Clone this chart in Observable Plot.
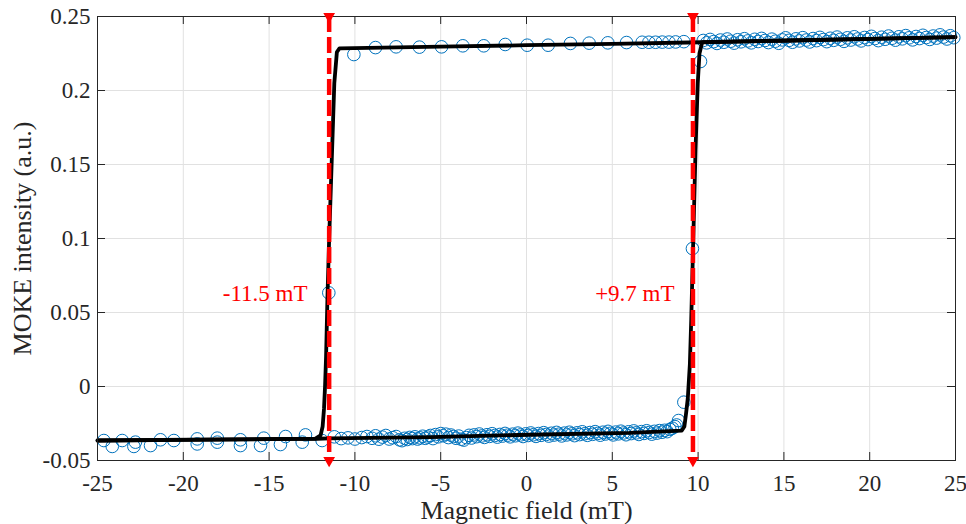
<!DOCTYPE html>
<html>
<head>
<meta charset="utf-8">
<script src="https://cdn.jsdelivr.net/npm/d3@7"></script>
<script src="https://cdn.jsdelivr.net/npm/@observablehq/plot@0.6"></script>
<style>
  html, body { margin: 0; padding: 0; background: #fff; }
  #chart svg { display: block; }
  #chart svg text { font-family: 'Liberation Serif', 'Times New Roman', Times, serif; }
</style>
</head>
<body>
<div id="chart"></div>
<script>
// ---------- axis ticks ----------
const xTicks = [-25, -20, -15, -10, -5, 0, 5, 10, 15, 20, 25];
const yTicks = [-0.05, 0, 0.05, 0.1, 0.15, 0.2, 0.25];
const xDomain = [-25, 25];
const yDomain = [-0.05, 0.25];

// ---------- measured MOKE points [field mT, intensity a.u.] ----------
// lower branch, sparse part (negative saturation)
const lowerLeft = [
  [-24.63, -0.0365], [-24.14, -0.0405], [-23.56, -0.0365], [-22.79, -0.0376], [-22.88, -0.0405],
  [-21.91, -0.0399], [-21.33, -0.0360], [-20.55, -0.0365], [-19.19, -0.0354], [-19.19, -0.0388],
  [-18.02, -0.0349], [-18.02, -0.0376], [-16.67, -0.0360], [-16.67, -0.0399], [-15.31, -0.0349],
  [-15.50, -0.0399], [-14.04, -0.0338], [-14.34, -0.0392], [-12.88, -0.0327], [-13.07, -0.0376],
  [-11.91, -0.0365]
];
// lower branch, dense part (up sweep before switching)
const lowerDense = [
  [-11.2, -0.0340], [-10.8, -0.0352], [-10.4, -0.0347], [-10.0, -0.0355], [-9.6, -0.0345],
  [-9.3, -0.0338], [-9.0, -0.0350], [-8.8, -0.0333], [-8.6, -0.0356], [-8.4, -0.0342],
  [-8.2, -0.0331], [-8.0, -0.0355], [-7.8, -0.0346], [-7.6, -0.0338], [-7.4, -0.0360],
  [-7.25, -0.0366], [-7.1, -0.0350], [-6.95, -0.0358], [-6.8, -0.0344], [-6.65, -0.0352],
  [-6.5, -0.0340], [-6.35, -0.0355], [-6.2, -0.0347], [-6.05, -0.0336], [-5.9, -0.0350],
  [-5.75, -0.0342], [-5.6, -0.0331], [-5.45, -0.0352], [-5.3, -0.0325], [-5.15, -0.0340],
  [-5.0, -0.0318], [-4.85, -0.0333], [-4.7, -0.0322], [-4.55, -0.0345], [-4.4, -0.0328],
  [-4.25, -0.0338], [-4.1, -0.0350], [-3.95, -0.0335], [-3.8, -0.0356], [-3.65, -0.0362],
  [-3.5, -0.0345], [-3.35, -0.0330], [-3.2, -0.0348], [-3.05, -0.0327], [-2.9, -0.0339],
  [-2.75, -0.0321], [-2.6, -0.0334], [-2.45, -0.0344], [-2.3, -0.0326], [-2.15, -0.0337],
  [-2.0, -0.0319], [-1.85, -0.0331], [-1.7, -0.0342], [-1.55, -0.0324], [-1.4, -0.0335],
  [-1.25, -0.0317], [-1.1, -0.0329], [-0.95, -0.0340], [-0.8, -0.0322], [-0.65, -0.0333],
  [-0.5, -0.0315], [-0.35, -0.0327], [-0.2, -0.0338], [-0.05, -0.0320], [0.1, -0.0331],
  [0.25, -0.0314], [0.4, -0.0326], [0.55, -0.0337], [0.7, -0.0318], [0.85, -0.0330],
  [1.0, -0.0312], [1.15, -0.0324], [1.3, -0.0335], [1.45, -0.0316], [1.6, -0.0328],
  [1.75, -0.0310], [1.9, -0.0322], [2.05, -0.0334], [2.2, -0.0315], [2.35, -0.0327],
  [2.5, -0.0309], [2.65, -0.0320], [2.8, -0.0332], [2.95, -0.0313], [3.1, -0.0325],
  [3.25, -0.0306], [3.4, -0.0319], [3.55, -0.0330], [3.7, -0.0311], [3.85, -0.0323],
  [4.0, -0.0305], [4.15, -0.0317], [4.3, -0.0329], [4.45, -0.0309], [4.6, -0.0321],
  [4.75, -0.0303], [4.9, -0.0316], [5.05, -0.0327], [5.2, -0.0308], [5.35, -0.0320],
  [5.5, -0.0302], [5.65, -0.0314], [5.8, -0.0326], [5.95, -0.0306], [6.1, -0.0318],
  [6.25, -0.0300], [6.4, -0.0313], [6.55, -0.0324], [6.7, -0.0305], [6.85, -0.0317],
  [7.0, -0.0299], [7.15, -0.0311], [7.3, -0.0322], [7.45, -0.0303], [7.6, -0.0315],
  [7.75, -0.0298], [7.9, -0.0309], [8.05, -0.0296], [8.2, -0.0305], [8.35, -0.0290],
  [8.5, -0.0282], [8.65, -0.0271], [8.75, -0.0260], [8.86, -0.0230], [9.17, -0.0106]
];
// points caught during the two switching events
const switching = [
  [-11.52, 0.0633], [9.67, 0.0932], [10.14, 0.2196]
];
// upper branch, sparse part (down sweep after saturation)
const upperSparse = [
  [-10.06, 0.2243], [-8.80, 0.2290], [-7.60, 0.2295], [-6.24, 0.2293], [-4.95, 0.2295],
  [-3.71, 0.2302], [-2.49, 0.2302], [-1.24, 0.2311], [0.04, 0.2306], [1.26, 0.2306],
  [2.56, 0.2318], [3.65, 0.2320], [4.74, 0.2322], [5.83, 0.2324], [6.74, 0.2326],
  [7.13, 0.2326], [7.52, 0.2326], [7.91, 0.2327], [8.30, 0.2327], [8.69, 0.2328],
  [9.17, 0.2330]
];
// upper branch, dense part (positive saturation)
const upperDense = [
  [10.3, 0.2338], [10.5, 0.2322], [10.7, 0.2345], [10.9, 0.2330], [11.1, 0.2318],
  [11.3, 0.2341], [11.5, 0.2326], [11.7, 0.2348], [11.9, 0.2333], [12.1, 0.2320],
  [12.3, 0.2343], [12.5, 0.2329], [12.7, 0.2350], [12.9, 0.2335], [13.1, 0.2322],
  [13.3, 0.2346], [13.5, 0.2331], [13.7, 0.2352], [13.9, 0.2338], [14.1, 0.2324],
  [14.3, 0.2347], [14.5, 0.2333], [14.7, 0.2319], [14.9, 0.2342], [15.1, 0.2356],
  [15.3, 0.2339], [15.5, 0.2326], [15.7, 0.2349], [15.9, 0.2335], [16.1, 0.2357],
  [16.3, 0.2341], [16.5, 0.2328], [16.7, 0.2351], [16.9, 0.2337], [17.1, 0.2359],
  [17.3, 0.2344], [17.5, 0.2330], [17.7, 0.2353], [17.9, 0.2339], [18.1, 0.2361],
  [18.3, 0.2346], [18.5, 0.2332], [18.7, 0.2356], [18.9, 0.2341], [19.1, 0.2363],
  [19.3, 0.2348], [19.5, 0.2335], [19.7, 0.2358], [19.9, 0.2344], [20.1, 0.2366],
  [20.3, 0.2351], [20.5, 0.2337], [20.7, 0.2360], [20.9, 0.2346], [21.1, 0.2368],
  [21.3, 0.2353], [21.5, 0.2340], [21.7, 0.2363], [21.9, 0.2349], [22.1, 0.2371],
  [22.3, 0.2356], [22.5, 0.2342], [22.7, 0.2365], [22.9, 0.2351], [23.1, 0.2373],
  [23.3, 0.2358], [23.5, 0.2345], [23.7, 0.2368], [23.9, 0.2354], [24.1, 0.2376],
  [24.3, 0.2361], [24.5, 0.2348], [24.7, 0.2370], [24.9, 0.2357]
];

// ---------- fitted loop (black line) ----------
const fitUp = [
  [-25, -0.0365], [-20, -0.0360], [-15, -0.0356], [-12.2, -0.0353], [-11.5, -0.0350],
  [-5.6, -0.0342], [0.2, -0.0326], [6.0, -0.0313], [9.05, -0.0298], [9.2, -0.0270],
  [9.3, -0.0180], [9.4, -0.0080], [9.52, 0.0150], [9.6, 0.0450], [9.72, 0.1000],
  [9.85, 0.1600], [9.98, 0.2050], [10.08, 0.2250], [10.24, 0.2327], [15, 0.2338],
  [20, 0.2349], [25, 0.2361]
];
const fitDown = [
  [25, 0.2361], [20, 0.2349], [15, 0.2336], [10.24, 0.2326], [5, 0.2315],
  [0, 0.2306], [-5, 0.2296], [-10.9, 0.2284], [-11.05, 0.2260], [-11.2, 0.2050],
  [-11.3, 0.1700], [-11.4, 0.1350], [-11.5, 0.1000], [-11.6, 0.0600], [-11.68, 0.0200],
  [-11.74, 0.0000], [-11.8, -0.0150], [-11.88, -0.0270], [-12.0, -0.0330], [-12.3, -0.0352],
  [-25, -0.0365]
];

// ---------- coercive fields and annotations ----------
const coerciveFields = [-11.5, 9.7];
const annText = ["-11.5 mT", "+9.7 mT"];
const annX = [-17.7, 4.0];
const annY = [0.063, 0.063];

const points = [...lowerLeft, ...lowerDense, ...switching, ...upperSparse, ...upperDense];

const AX = "#262626";
const font = "'Liberation Serif', 'Times New Roman', Times, serif";

const chart = Plot.plot({
  width: 966,
  height: 524,
  marginLeft: 97,
  marginRight: 11,
  marginTop: 16,
  marginBottom: 64,
  x: {domain: xDomain},
  y: {domain: yDomain},
  style: {fontFamily: font, background: "#fff", color: AX},
  marks: [
    // grid
    Plot.ruleX(xTicks, {stroke: "#e1e1e1", strokeWidth: 1}),
    Plot.ruleY(yTicks, {stroke: "#e1e1e1", strokeWidth: 1}),
    // data
    Plot.dot(points, {x: d => d[0], y: d => d[1], r: 6.3, stroke: "#0072BD", fill: "none", strokeWidth: 1}),
    // fit
    Plot.line(fitUp, {x: d => d[0], y: d => d[1], stroke: "#000", strokeWidth: 3.8}),
    Plot.line(fitDown, {x: d => d[0], y: d => d[1], stroke: "#000", strokeWidth: 3.8}),
    // frame and inward ticks
    Plot.frame({stroke: AX, strokeWidth: 1}),
    Plot.ruleX(xTicks, {insetTop: 436, stroke: AX}),
    Plot.ruleX(xTicks, {insetBottom: 436, stroke: AX}),
    Plot.ruleY(yTicks, {insetRight: 850, stroke: AX}),
    Plot.ruleY(yTicks, {insetLeft: 850, stroke: AX}),
    // coercive field lines
    Plot.ruleX(coerciveFields, {stroke: "#ff0000", strokeWidth: 4.5, strokeDasharray: "16,5"}),
    Plot.dot(coerciveFields, {x: d => d, y: () => yDomain[1], symbol: "triangle", rotate: 180, r: 3.4, fill: "#ff0000", stroke: "#ff0000"}),
    Plot.dot(coerciveFields, {x: d => d, y: () => yDomain[0], symbol: "triangle", rotate: 180, r: 3.4, fill: "#ff0000", stroke: "#ff0000"}),
    // annotations
    Plot.text(annText, {x: (d, i) => annX[i], y: (d, i) => annY[i], text: d => d, fill: "#ff0000", fontSize: 23, fontFamily: font, textAnchor: "start", lineAnchor: "middle"}),
    // axes tick labels
    Plot.axisX({ticks: xTicks, tickSize: 0, tickPadding: 14, tickFormat: d => String(d), fontSize: 23, fontFamily: font, label: null}),
    Plot.axisY({ticks: yTicks, tickSize: 0, tickPadding: 7, tickFormat: d => String(d), fontSize: 23, fontFamily: font, label: null}),
    // axis titles
    Plot.text(["Magnetic field (mT)"], {frameAnchor: "bottom", dy: 58, lineAnchor: "bottom", textAnchor: "middle", fontSize: 26, fontFamily: font, fill: AX}),
    Plot.text(["MOKE intensity (a.u.)"], {frameAnchor: "left", dx: -75, rotate: -90, lineAnchor: "middle", textAnchor: "middle", fontSize: 26, fontFamily: font, fill: AX})
  ]
});

document.getElementById("chart").appendChild(chart);
</script>
</body>
</html>
